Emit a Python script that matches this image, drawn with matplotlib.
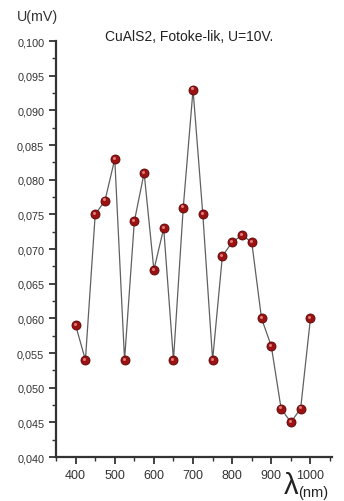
import matplotlib
matplotlib.use("Agg")
import matplotlib.pyplot as plt
from matplotlib.ticker import MultipleLocator, FuncFormatter
from matplotlib.transforms import ScaledTranslation

wavelength = [400, 425, 450, 475, 500, 525, 550, 575, 600, 625, 650, 675, 700,
              725, 750, 775, 800, 825, 850, 875, 900, 925, 950, 975, 1000]
voltage = [0.059, 0.054, 0.075, 0.077, 0.083, 0.054, 0.074, 0.081, 0.067, 0.073,
           0.054, 0.076, 0.093, 0.075, 0.054, 0.069, 0.071, 0.072, 0.071, 0.060,
           0.056, 0.047, 0.045, 0.047, 0.060]
title = "CuAlS2, Fotoke-lik, U=10V."

plt.rcParams['font.family'] = ['Liberation Sans', 'DejaVu Sans']
fig = plt.figure(figsize=(3.44, 5.02), dpi=100)
ax = fig.add_axes([0.163, 0.0876, 0.802, 0.8284])

ax.plot(wavelength, voltage, color='#606060', lw=0.9, zorder=2)
ax.plot(wavelength, voltage, ls='none', marker='o', ms=6.5,
        markerfacecolor='#9b1212', markeredgecolor='#5a0606', markeredgewidth=0.6, zorder=3)
hl = ax.transData + ScaledTranslation(-1.0 / 100, 1.3 / 100, fig.dpi_scale_trans)
ax.plot(wavelength, voltage, ls='none', marker='o', ms=2.2,
        markerfacecolor='#e07a7a', markeredgecolor='none', zorder=4, transform=hl)

ax.set_xlim(350, 1055)
ax.set_ylim(0.040, 0.100)
ax.xaxis.set_major_locator(MultipleLocator(100))
ax.xaxis.set_minor_locator(MultipleLocator(50))
ax.yaxis.set_major_locator(MultipleLocator(0.005))
ax.yaxis.set_minor_locator(MultipleLocator(0.0025))
ax.yaxis.set_major_formatter(FuncFormatter(lambda v, p: f"{v:.3f}".replace('.', ',')))

for s in ['top', 'right']:
    ax.spines[s].set_visible(False)
for s in ['left', 'bottom']:
    ax.spines[s].set_linewidth(1.6)
    ax.spines[s].set_color('#333333')

ax.tick_params(which='major', direction='out', length=5, width=1.3, colors='#333333',
               labelcolor='#333333')
ax.tick_params(axis='y', which='major', labelsize=7.8)
ax.tick_params(axis='x', which='major', labelsize=9)
ax.tick_params(which='minor', direction='out', length=3, width=1.0, colors='#333333')

fig.text(0.048, 0.953, "U(mV)", fontsize=10.3, color='#333333', ha='left', va='bottom')
fig.text(0.305, 0.912, title, fontsize=10, color='#222222', ha='left', va='bottom')
fig.text(0.826, 0.004, "λ", fontsize=21, color='#222222', ha='left', va='bottom')
fig.text(0.868, 0.004, "(nm)", fontsize=10.5, color='#222222', ha='left', va='bottom')

fig.savefig("out.png", dpi=100)
